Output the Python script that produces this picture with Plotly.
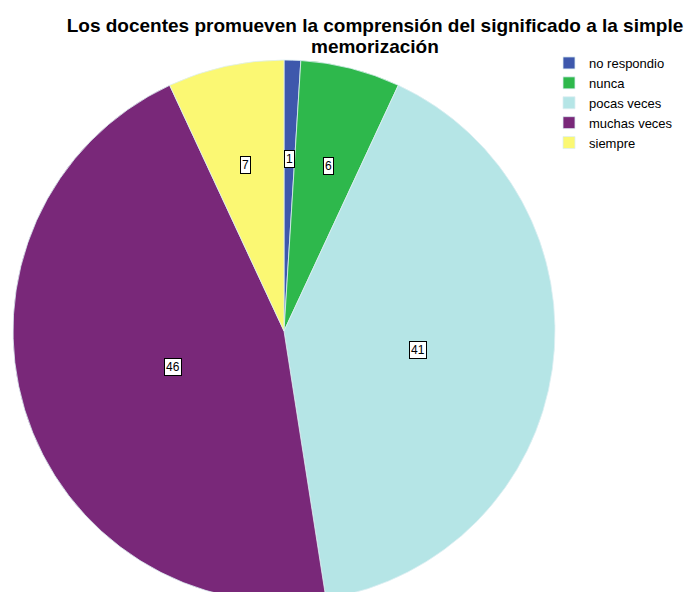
import math
import plotly.graph_objects as go

categories = ["no respondio", "nunca", "pocas veces", "muchas veces", "siempre"]
values = [1, 6, 41, 46, 7]
colors = ["#3E58AC", "#2EB84C", "#B5E5E6", "#792879", "#FBF873"]
title_line1 = "Los docentes promueven la comprensión del significado a la simple"
title_line2 = "memorización"

W, H = 694, 610
FONT = "Liberation Sans, Arial, sans-serif"

# pie domain in pixels (from top-left of the figure)
pie_left, pie_right = 5, 547
pie_top, pie_bottom = 52, 594
dom_x = [pie_left / W, pie_right / W]
dom_y = [(H - pie_bottom) / H, (H - pie_top) / H]

fig = go.Figure()
fig.add_trace(go.Pie(
    labels=categories,
    values=values,
    sort=False,
    direction="clockwise",
    rotation=0,
    marker=dict(colors=colors, line=dict(color="#DDEFF3", width=0.8)),
    textinfo="none",
    hoverinfo="label+value",
    domain=dict(x=dom_x, y=dom_y),
))

# value labels placed at the centroid of each sector
cx_px = (pie_left + pie_right) / 2
cy_px = (pie_top + pie_bottom) / 2
R_px = min(pie_right - pie_left, pie_bottom - pie_top) / 2
total = sum(values)
cum = 0
annotations = []
for v in values:
    a = v / total * math.pi  # half angle
    mid = (cum + v / 2) / total * 2 * math.pi
    cum += v
    d = (2 / 3) * R_px * math.sin(a) / a
    x_px = cx_px + d * math.sin(mid)
    y_px = cy_px - d * math.cos(mid)
    annotations.append(dict(
        x=x_px / W, y=(H - y_px) / H, xref="paper", yref="paper",
        text=str(v), showarrow=False,
        font=dict(family=FONT, size=12, color="#000000"),
        bgcolor="#FFFFFF", bordercolor="#000000", borderwidth=1, borderpad=1,
    ))

# second title line (tighter line spacing than plotly's <br>)
annotations.append(dict(
    x=367 / W, y=(H - 39) / H, xref="paper", yref="paper",
    xanchor="center", yanchor="middle", showarrow=False,
    text="<b>" + title_line2 + "</b>",
    font=dict(family=FONT, size=19, color="#000000"),
))

fig.update_layout(
    width=W, height=H,
    margin=dict(l=0, r=0, t=0, b=0),
    paper_bgcolor="#FFFFFF",
    plot_bgcolor="#FFFFFF",
    title=dict(
        text="<b>" + title_line1 + "</b>",
        x=367 / W, xanchor="center",
        y=1 - 17 / H, yanchor="middle", yref="container",
        font=dict(family=FONT, size=19, color="#000000"),
    ),
    legend=dict(
        x=541 / W, y=1 - 40 / H, xanchor="left", yanchor="top",
        font=dict(family=FONT, size=13, color="#000000"),
        bgcolor="rgba(0,0,0,0)",
        itemwidth=30,
        tracegroupgap=0,
    ),
    annotations=annotations,
)

fig.write_html("out.html")
